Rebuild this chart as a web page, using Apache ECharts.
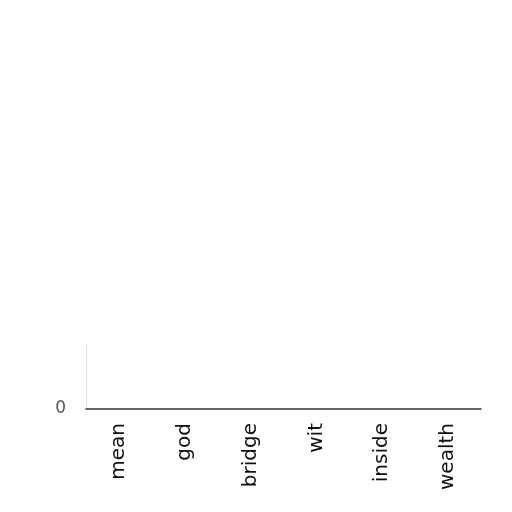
<!DOCTYPE html>
<html>
<head>
    <meta charset="utf-8"/>
    <style>
        html, body { margin: 0; padding: 0; background: #fff; }
        #main { width: 512px; height: 512px; }
    </style>
    <script src="https://cdn.jsdelivr.net/npm/echarts@6/dist/echarts.min.js"></script>
</head>
<body>
<div id="main"></div>
<script>
    // 类别与数值
    var categories = ['mean', 'god', 'bridge', 'wit', 'inside', 'wealth'];
    var values = [0, 0, 0, 0, 0, 0];
    var yTicks = [0];

    var myChart = echarts.init(document.getElementById('main'));
    var option = {
        animation: false,
        backgroundColor: '#fff',
        grid: { left: 86, right: 31, top: 345, bottom: 103 },
        xAxis: {
            type: 'category',
            data: categories,
            axisLine: { lineStyle: { color: '#333', width: 1.5 } },
            axisTick: { alignWithLabel: true, length: 5, lineStyle: { color: '#333' } },
            axisLabel: {
                rotate: 90,
                interval: 0,
                margin: 14,
                color: '#111',
                fontSize: 20,
                fontFamily: 'DejaVu Sans'
            }
        },
        yAxis: {
            type: 'value',
            min: 0,
            max: 1,
            interval: 1,
            splitLine: { show: false },
            axisLine: { show: true, lineStyle: { color: '#e4e4e4' } },
            axisTick: { show: false },
            axisLabel: {
                color: '#555',
                fontSize: 17,
                fontFamily: 'DejaVu Sans',
                margin: 20,
                formatter: function (v) {
                    return yTicks.indexOf(v) >= 0 ? String(v) : '';
                }
            }
        },
        series: [{
            type: 'bar',
            data: values,
            itemStyle: { color: '#c44e52' }
        }]
    };
    myChart.setOption(option);
</script>
</body>
</html>
